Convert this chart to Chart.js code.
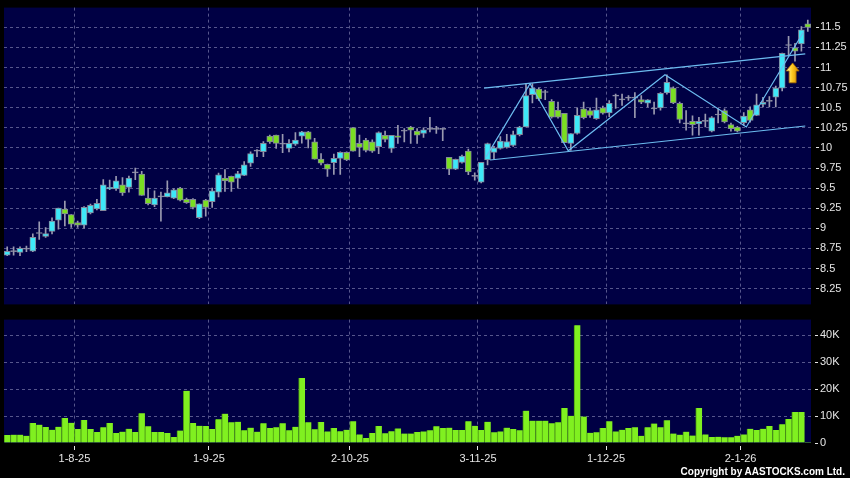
<!DOCTYPE html>
<html>
<head>
<meta charset="utf-8">
<script src="https://cdn.jsdelivr.net/npm/chart.js@4/dist/chart.umd.min.js"></script>
<style>
body{margin:0;background:#000;width:850px;height:478px;overflow:hidden;position:relative;font-family:Arial,"Liberation Sans",sans-serif}
#precos{position:absolute;left:0;top:0}
#volume{position:absolute;left:0;top:312px}
#copyright{position:absolute;right:5px;top:466px;color:#fff;font-size:10px;font-weight:bold;white-space:nowrap}
</style>
</head>
<body>
<canvas id="precos" width="850" height="312"></canvas>
<canvas id="volume" width="850" height="166"></canvas>
<div id="copyright">Copyright by AASTOCKS.com Ltd.</div>
<script>
const abertura = [8.665, 8.71, 8.70, 8.74, 8.714, 8.935, 8.899, 8.96, 9.10, 9.24,
  9.17, 9.07, 9.04, 9.19, 9.24, 9.22, 9.49, 9.49, 9.54, 9.51,
  9.69, 9.675, 9.375, 9.29, 9.39, 9.39, 9.375, 9.50, 9.36, 9.36,
  9.133, 9.35, 9.33, 9.45, 9.625, 9.645, 9.62, 9.658, 9.81, 9.96,
  9.953, 10.146, 10.16, 10.047, 9.994, 10.047, 10.146, 10.199, 10.076, 9.86,
  9.797, 9.817, 9.87, 9.945, 10.252, 10.056, 10.097, 10.076, 10.015, 10.158,
  9.994, 10.15, 10.207, 10.26, 10.21, 10.18, 10.23, 10.23, 10.23, 9.883,
  9.735, 9.82, 9.96, 9.645, 9.575, 9.85, 9.945, 9.994, 10.006, 10.03,
  10.166, 10.26, 10.662, 10.733, 10.69, 10.58, 10.47, 10.43, 10.056, 10.179,
  10.486, 10.466, 10.363, 10.499, 10.437, 10.645, 10.597, 10.62, 10.62, 10.60,
  10.556, 10.486, 10.499, 10.683, 10.745, 10.556, 10.30, 10.33, 10.30, 10.33,
  10.207, 10.41, 10.466, 10.289, 10.26, 10.314, 10.474, 10.404, 10.54, 10.58,
  10.63, 10.745, 11.274, 11.245, 11.295, 11.545]

const maxima = [8.77, 8.77, 8.77, 8.78, 8.93, 9.08, 9.01, 9.13, 9.25, 9.34,
  9.17, 9.09, 9.27, 9.30, 9.36, 9.605, 9.60, 9.645, 9.63, 9.65,
  9.75, 9.71, 9.50, 9.465, 9.45, 9.59, 9.49, 9.51, 9.375, 9.37,
  9.305, 9.36, 9.50, 9.687, 9.73, 9.65, 9.71, 9.83, 9.95, 9.98,
  10.08, 10.16, 10.16, 10.17, 10.105, 10.19, 10.207, 10.207, 10.12, 9.93,
  9.80, 9.924, 9.95, 9.95, 10.252, 10.16, 10.12, 10.10, 10.20, 10.21,
  10.158, 10.28, 10.24, 10.27, 10.24, 10.25, 10.38, 10.27, 10.24, 9.883,
  9.86, 9.912, 9.985, 9.69, 9.82, 10.06, 10.02, 10.14, 10.17, 10.21,
  10.27, 10.80, 10.80, 10.745, 10.72, 10.60, 10.57, 10.43, 10.18, 10.50,
  10.57, 10.50, 10.62, 10.52, 10.59, 10.67, 10.67, 10.65, 10.69, 10.65,
  10.60, 10.57, 10.69, 10.91, 10.76, 10.57, 10.466, 10.40, 10.38, 10.42,
  10.39, 10.49, 10.485, 10.31, 10.27, 10.44, 10.51, 10.67, 10.63, 10.64,
  10.77, 11.18, 11.39, 11.30, 11.51, 11.59]

const minima = [8.66, 8.665, 8.66, 8.71, 8.71, 8.86, 8.886, 8.93, 8.99, 9.03,
  9.01, 9.01, 9.00, 9.18, 9.23, 9.22, 9.48, 9.47, 9.41, 9.45,
  9.605, 9.41, 9.29, 9.27, 9.09, 9.39, 9.37, 9.34, 9.31, 9.24,
  9.12, 9.15, 9.26, 9.39, 9.46, 9.46, 9.50, 9.655, 9.77, 9.89,
  9.89, 10.056, 9.995, 9.94, 9.95, 10.03, 10.06, 10.0, 9.859, 9.79,
  9.645, 9.67, 9.67, 9.84, 9.96, 9.89, 9.95, 9.945, 9.93, 10.076,
  9.945, 10.056, 10.076, 10.056, 10.056, 10.13, 10.20, 10.18, 10.09, 9.666,
  9.73, 9.81, 9.666, 9.60, 9.565, 9.79, 9.86, 9.985, 9.998, 10.02,
  10.15, 10.26, 10.56, 10.59, 10.60, 10.37, 10.37, 10.064, 9.97, 10.17,
  10.36, 10.38, 10.355, 10.42, 10.39, 10.49, 10.53, 10.59, 10.376, 10.55,
  10.51, 10.42, 10.47, 10.67, 10.55, 10.31, 10.22, 10.16, 10.16, 10.26,
  10.20, 10.31, 10.31, 10.21, 10.20, 10.28, 10.32, 10.40, 10.51, 10.51,
  10.51, 10.71, 11.16, 11.08, 11.205, 11.45]

const fechamento = [8.714, 8.71, 8.75, 8.74, 8.886, 8.935, 8.935, 9.09, 9.25, 9.18,
  9.05, 9.04, 9.26, 9.285, 9.31, 9.54, 9.51, 9.59, 9.44, 9.625,
  9.69, 9.41, 9.305, 9.375, 9.39, 9.44, 9.48, 9.35, 9.32, 9.26,
  9.305, 9.26, 9.465, 9.666, 9.588, 9.575, 9.68, 9.79, 9.93, 9.96,
  10.056, 10.076, 10.056, 10.047, 10.056, 10.097, 10.199, 10.105, 9.859, 9.81,
  9.735, 9.87, 9.945, 9.85, 9.96, 10.006, 9.97, 9.96, 10.19, 10.105,
  10.158, 10.13, 10.207, 10.22, 10.158, 10.224, 10.23, 10.23, 10.23, 9.735,
  9.858, 9.90, 9.70, 9.645, 9.82, 10.055, 10.002, 10.084, 10.08, 10.166,
  10.26, 10.65, 10.745, 10.61, 10.69, 10.384, 10.384, 10.064, 10.179, 10.404,
  10.376, 10.404, 10.474, 10.433, 10.556, 10.645, 10.597, 10.62, 10.62, 10.57,
  10.597, 10.486, 10.68, 10.815, 10.56, 10.355, 10.30, 10.29, 10.33, 10.33,
  10.376, 10.41, 10.322, 10.24, 10.21, 10.396, 10.343, 10.536, 10.568, 10.58,
  10.745, 11.176, 11.274, 11.204, 11.47, 11.50]

// volume em milhares
const volume = [3.0, 3.1, 3.1, 2.7, 7.4, 6.8, 5.9, 4.9, 6.0, 9.3,
  7.5, 5.2, 8.5, 5.2, 4.1, 5.8, 7.4, 3.7, 4.2, 5.3,
  4.1, 11.0, 6.2, 4.1, 4.1, 3.7, 2.2, 4.6, 19.4, 7.4,
  6.4, 6.3, 5.2, 8.8, 10.9, 7.7, 7.9, 4.7, 5.7, 4.2,
  7.3, 5.6, 5.8, 7.3, 4.7, 6.0, 24.1, 7.7, 5.1, 7.8,
  4.3, 5.6, 4.4, 4.9, 8.1, 3.2, 1.9, 3.7, 6.3, 3.6,
  4.4, 5.4, 3.5, 3.5, 4.1, 4.3, 4.7, 6.2, 5.6, 5.7,
  4.8, 4.8, 8.1, 6.4, 4.8, 7.9, 4.0, 4.3, 5.7, 5.2,
  4.7, 12.0, 8.3, 8.3, 8.3, 7.3, 7.7, 13.0, 10.1, 43.7,
  9.8, 3.8, 4.0, 5.6, 8.1, 4.3, 4.9, 5.6, 5.8, 2.7,
  5.8, 7.2, 5.8, 8.4, 3.5, 3.1, 4.2, 2.8, 13.0, 3.2,
  2.2, 2.3, 2.1, 2.1, 2.7, 3.2, 5.3, 4.8, 5.3, 6.3,
  4.8, 7.0, 8.9, 11.5, 11.5, 0.4]

const posicoes_mes = [11.5, 32.5, 54.5, 74.5, 94.5, 115.5]
const rotulos_mes = ['1-8-25', '1-9-25', '2-10-25', '3-11-25', '1-12-25', '2-1-26']
const ticks_preco = [8.25, 8.5, 8.75, 9, 9.25, 9.5, 9.75, 10, 10.25, 10.5, 10.75, 11, 11.25, 11.5]
const ticks_volume = [0, 10, 20, 30, 40]

// linhas desenhadas sobre o grafico (posicao do candle, preco)
const canal_superior = [{x: 75.45, y: 10.745}, {x: 125.6, y: 11.171}]
const canal_inferior = [{x: 76.4, y: 9.85}, {x: 125.6, y: 10.273}]
const zigue_zague = [{x: 75.76, y: 9.888}, {x: 82.63, y: 10.80}, {x: 88.6, y: 9.965},
  {x: 103.7, y: 10.91}, {x: 116.4, y: 10.26}, {x: 125.3, y: 11.44}]
const seta_pos = {x: 123.63, topo: 11.057, base: 10.81}

const cor_grade = '#56568c'
const cor_texto = '#e6e6e6'
const fonte = {family: 'Arial, "Liberation Sans", sans-serif', size: 11}

const fundo = {
    id: 'fundo',
    beforeDraw(chart){
        const a = chart.chartArea
        chart.ctx.save()
        chart.ctx.fillStyle = '#000044'
        chart.ctx.fillRect(a.left, a.top, a.right - a.left, a.bottom - a.top)
        chart.ctx.restore()
    }
}

const seta = {
    id: 'seta',
    afterDatasetsDraw(chart){
        const x = chart.scales.x.getPixelForValue(seta_pos.x)
        const y0 = chart.scales.y.getPixelForValue(seta_pos.topo)
        const y1 = chart.scales.y.getPixelForValue(seta_pos.base)
        const ctx = chart.ctx
        ctx.save()
        var grad = ctx.createLinearGradient(x - 6, 0, x + 6, 0)
        grad.addColorStop(0, '#fff3a8')
        grad.addColorStop(0.45, '#ffcc22')
        grad.addColorStop(1, '#d48c00')
        ctx.beginPath()
        ctx.moveTo(x, y0)
        ctx.lineTo(x + 6.5, y0 + 8)
        ctx.lineTo(x + 3.5, y0 + 8)
        ctx.lineTo(x + 3.5, y1)
        ctx.lineTo(x - 3.5, y1)
        ctx.lineTo(x - 3.5, y0 + 8)
        ctx.lineTo(x - 6.5, y0 + 8)
        ctx.closePath()
        ctx.fillStyle = grad
        ctx.fill()
        ctx.strokeStyle = '#a86c00'
        ctx.lineWidth = 0.8
        ctx.stroke()
        ctx.restore()
    }
}

function ticks_fixos(valores){
    return function(axis){
        axis.ticks = valores.map(v => ({value: v}))
    }
}

function cor_candle(i){
    if(fechamento[i] > abertura[i]) return '#3ee8f8'
    if(fechamento[i] < abertura[i]) return '#7ade22'
    return '#9a9ab0'
}

var pavios = []
var corpos = []
var cores_corpo = []
var barras_volume = []
for(let i = 0; i < abertura.length; i++){
    pavios.push({x: i + 1, y: [minima[i], maxima[i]]})
    corpos.push({x: i + 1, y: [abertura[i], fechamento[i]]})
    cores_corpo.push(cor_candle(i))
    barras_volume.push({x: i + 1, y: volume[i]})
}

function linha(dados){
    return {
        type: 'line',
        data: dados,
        borderColor: '#6cbcf0',
        borderWidth: 1.2,
        pointRadius: 0,
        fill: false,
        order: 0
    }
}

const eixo_x = {
    type: 'linear',
    min: 0.5,
    max: 126.5,
    offset: false,
    afterBuildTicks: ticks_fixos(posicoes_mes),
    border: {display: false, dash: [3, 3]}
}

new Chart(document.getElementById('precos').getContext('2d'), {
    type: 'bar',
    data: {
        datasets: [
            {
                data: pavios,
                backgroundColor: '#9a9ab0',
                barThickness: 1,
                grouped: false,
                order: 2
            },
            {
                data: corpos,
                backgroundColor: cores_corpo,
                borderColor: '#83869a',
                borderWidth: 1,
                borderSkipped: false,
                barThickness: 6,
                minBarLength: 1,
                grouped: false,
                order: 1
            },
            linha(canal_superior),
            linha(canal_inferior),
            linha(zigue_zague)
        ]
    },
    options: {
        responsive: false,
        animation: false,
        layout: {padding: {left: 4, top: 6, bottom: 6, right: 0}},
        plugins: {legend: {display: false}, tooltip: {enabled: false}},
        scales: {
            x: Object.assign({}, eixo_x, {
                ticks: {display: false},
                grid: {color: cor_grade, drawTicks: false, offset: false},
                afterFit: function(axis){ axis.height = 0 }
            }),
            y: {
                position: 'right',
                min: 8.053,
                max: 11.746,
                afterBuildTicks: ticks_fixos(ticks_preco),
                afterFit: function(axis){ axis.width = 39 },
                border: {display: false, dash: [3, 3]},
                grid: {color: cor_grade, tickColor: cor_texto, tickLength: 8, tickBorderDash: [0, 5, 3, 50]},
                ticks: {color: cor_texto, font: fonte, padding: 1, callback: v => String(v)}
            }
        }
    },
    plugins: [fundo, seta]
})

new Chart(document.getElementById('volume').getContext('2d'), {
    type: 'bar',
    data: {
        datasets: [{
            data: barras_volume,
            backgroundColor: '#80f020',
            borderColor: '#4c9a12',
            borderWidth: {left: 1, right: 0, top: 0, bottom: 0},
            borderSkipped: false,
            barPercentage: 1,
            categoryPercentage: 1
        }]
    },
    options: {
        responsive: false,
        animation: false,
        layout: {padding: {left: 4, top: 7, bottom: 0, right: 0}},
        plugins: {legend: {display: false}, tooltip: {enabled: false}},
        scales: {
            x: Object.assign({}, eixo_x, {
                grid: {color: cor_grade, offset: false, tickColor: cor_texto, tickLength: 7, tickBorderDash: [0, 3, 4, 50]},
                ticks: {color: cor_texto, font: fonte, padding: 2, maxRotation: 0, autoSkip: false,
                    callback: (v, idx) => rotulos_mes[idx]},
                afterFit: function(axis){ axis.height = 35 }
            }),
            y: {
                position: 'right',
                min: 0,
                max: 45.8,
                afterBuildTicks: ticks_fixos(ticks_volume),
                afterFit: function(axis){ axis.width = 39 },
                border: {display: false, dash: [3, 3]},
                grid: {
                    color: c => (c.tick && c.tick.value === 0) ? 'rgba(0,0,0,0)' : cor_grade,
                    tickColor: cor_texto, tickLength: 8, tickBorderDash: [0, 4, 3, 50]
                },
                ticks: {color: cor_texto, font: fonte, padding: 1, callback: v => v === 0 ? '0' : v + 'K'}
            }
        }
    },
    plugins: [fundo]
})
</script>
</body>
</html>
